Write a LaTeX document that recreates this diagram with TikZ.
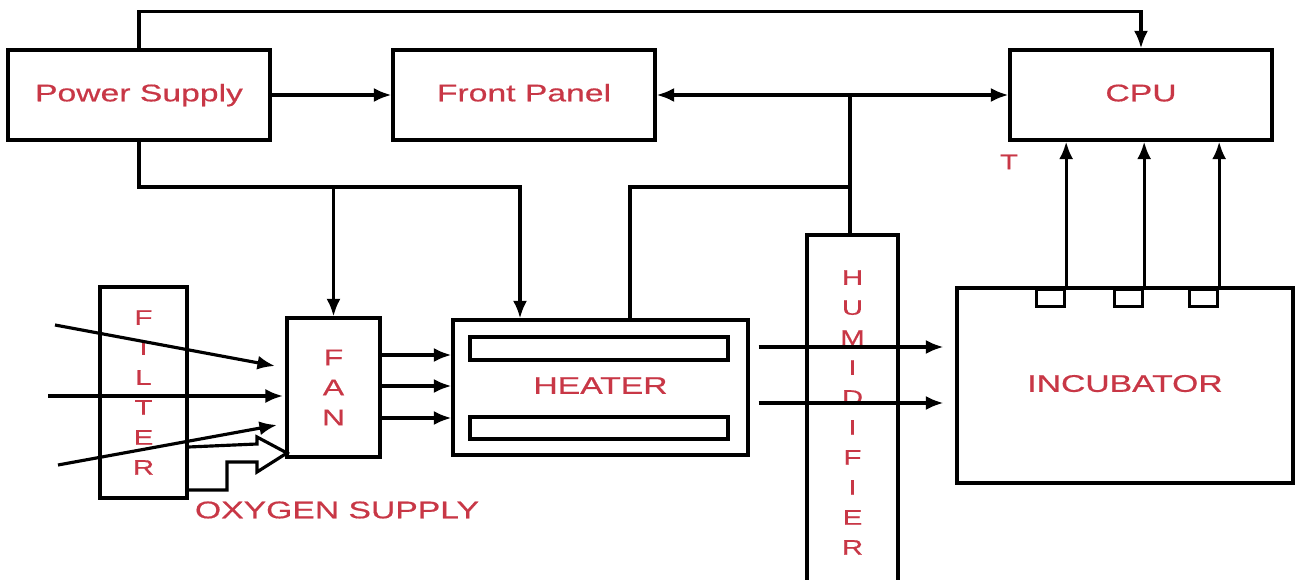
\documentclass[tikz,border=0pt]{standalone}
\usepackage{fontspec}
\usepackage{tikz}
\newfontfamily\lblfont[FakeStretch=1.4,FakeBold=0.6]{Liberation Sans}
\usetikzlibrary{positioning,arrows.meta,calc}
\definecolor{lblred}{RGB}{200,55,70}

\begin{document}
\begin{tikzpicture}[x=0.02cm,y=-0.02cm,line width=1.8pt,
  frame/.style={draw,rectangle,inner sep=0pt,text=lblred},
  box/.style={frame,text height=0.72em,text depth=0pt,font=\lblfont\fontsize{13.7}{16}\selectfont},
  vbox/.style={frame,align=center,font=\lblfont\fontsize{12}{17.07}\selectfont},
  arr/.style={-{Latex[length=10pt,width=8pt]}}]
  \clip (0,0) rectangle (1297,580);
  % top row
  \node[box,minimum width=5.24cm,minimum height=1.8cm] (ps) at (139,95) {Power Supply};
  \node[box,minimum width=5.24cm,minimum height=1.8cm] (fp) at (524,95) {Front Panel};
  \node[box,minimum width=5.24cm,minimum height=1.8cm] (cpu) at (1141,95) {CPU};
  \node[text=lblred,font=\lblfont\fontsize{12}{14}\selectfont] (t) at (1009,162) {T};
  % air path
  \node[vbox,minimum width=1.74cm,minimum height=4.22cm] (fil) at (143.5,392.5) {F\\I\\L\\T\\E\\R};
  \node[vbox,font=\lblfont\fontsize{13}{17.07}\selectfont,minimum width=1.86cm,minimum height=2.78cm] (fan) at (333.5,387.5) {F\\A\\N};
  \node[box,minimum width=5.9cm,minimum height=2.7cm] (heat) at (600.5,387.5) {HEATER};
  \draw (470,337) rectangle (728,360);
  \draw (470,417) rectangle (728,439);
  \node[vbox,minimum width=1.82cm,minimum height=7.1cm] (hum) at (852.5,412.5) {H\\U\\M\\I\\D\\I\\F\\I\\E\\R};
  \node[box,minimum width=6.72cm,minimum height=3.9cm] (inc) at (1125,385.5) {INCUBATOR};
  \node[text=lblred,font=\lblfont\fontsize{13.7}{16}\selectfont] (ox) at (337,510) {OXYGEN SUPPLY};
  % sensors
  \foreach \sx/\nm in {1035/s1,1113/s2,1188/s3}
    \node[draw,inner sep=0pt,minimum width=0.56cm,minimum height=0.34cm,anchor=north west] (\nm) at (\sx,288) {};
  \foreach \nm in {s1,s2,s3}
    \draw[arr] (\nm.north east) -- (\nm.north east |- cpu.south);
  % power and bus lines
  \draw[arr] (ps.north) -- ++(0,-37) -| (cpu.north);
  \draw[arr] (ps) -- (fp);
  \coordinate (jn) at (850,95);
  \coordinate (jh) at (850,187);
  \coordinate (pb) at (139,187);
  \draw[arr] (jn) -- (fp.east);
  \draw[arr] (jn) -- (cpu.west);
  \draw (jn) -- (jn |- hum.north);
  \draw (jh) -| ([xshift=0.59cm]heat.north);
  \draw[arr] (ps.south) -- (pb) -| ([xshift=-1.61cm]heat.north);
  \draw[arr] (fan.north |- pb) -- (fan.north);
  % air flow
  \coordinate (i1) at (55,325);
  \coordinate (i2) at (48,396);
  \coordinate (i3) at (58,465);
  \coordinate (t1) at (275,366);
  \coordinate (t2) at (283,396);
  \coordinate (t3) at (277,425);
  \draw[arr] (i1) -- (t1);
  \draw[arr] (i2) -- (t2);
  \draw[arr] (i3) -- (t3);
  \foreach \yy in {355,386,418}
    \draw[arr] (fan.east |- 0,\yy) -- (heat.west |- 0,\yy);
  \foreach \yy in {347,403}
    \draw[arr,shorten <=0.18cm,shorten >=0.24cm] (heat.east |- 0,\yy) -- (inc.west |- 0,\yy);
  % oxygen inlet
  \draw[line join=miter] (fil.east |- 0,447) -- (257,444) -- (257,437) -- (287,453) -- (257,472)
    -- (257,462) -- (227,462) -- (227,490) -- (fil.east |- 0,490);
\end{tikzpicture}
\end{document}
